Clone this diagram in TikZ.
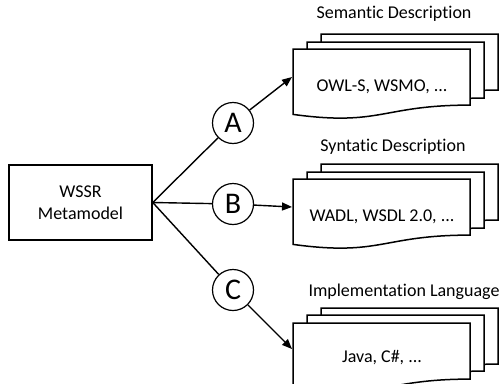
\documentclass[tikz,border=0pt]{standalone}
\usepackage{fontspec}
\setmainfont[Ligatures=NoCommon]{Carlito}
\usetikzlibrary{arrows.meta}
\newcommand\mydocshape[2]{%
  \draw[docline, shift={(#1,#2)}] (0,0) -- (177,0) -- (177,56.1)
    .. controls (88.5,56.1) and (88.5,77.5) .. (0,65.4) -- cycle;}
\tikzset{
  docline/.style={line width=1.5pt, fill=white, line join=miter},
  mainbox/.style={draw, line width=1.5pt, minimum width=143pt, minimum height=75pt, inner sep=0pt, align=center, font=\fontsize{18}{22}\selectfont},
  letter/.style={draw, circle, line width=1.2pt, minimum size=41pt, inner sep=0pt, font=\fontsize{30}{30}\selectfont},
  lbl/.style={inner sep=0pt, font=\fontsize{18}{22}\selectfont},
  conn/.style={line width=1.4pt},
  arr/.style={line width=1.4pt, -{Triangle[length=10pt,width=8pt]}, shorten >=0pt}
}
\begin{document}
\begin{tikzpicture}[x=1pt,y=-1pt]
\useasboundingbox (0,0) rectangle (503,383);
\begin{scope}
\clip (0,0) rectangle (503,383);
% document stacks
\mydocshape{321}{34}\mydocshape{307}{42}\mydocshape{293}{49}
\mydocshape{321}{164}\mydocshape{307}{172}\mydocshape{293}{179}
\mydocshape{321}{308}\mydocshape{307}{315}\mydocshape{293}{323}
\end{scope}
\node[lbl] (la) at (394,14) {Semantic Description};
\node[lbl] (lb) at (393,147) {Syntatic Description};
\node[lbl] (lc) at (404,292) {Implementation Language};
\node[lbl] (ta) at (382,87) {OWL-S, WSMO, ...};
\node[lbl] (tb) at (382,217) {WADL, WSDL 2.0, ...};
\node[lbl] (tc) at (382,358) {Java, C\#, ...};
\node[mainbox] (wssr) at (80.5,202.5) {WSSR\\Metamodel};
\node[letter] (A) at (233,123) {A};
\node[letter] (B) at (233,204) {B};
\node[letter] (C) at (233,290) {C};
\coordinate (ina) at (292,77);
\coordinate (inb) at (292,207);
\coordinate (inc) at (292,349);
\draw[conn] (wssr.east) -- (A);
\draw[conn] (wssr.east) -- (B);
\draw[conn] (wssr.east) -- (C);
\draw[arr] (A) -- (ina);
\draw[arr] (B) -- (inb);
\draw[arr] (C) -- (inc);
\end{tikzpicture}
\end{document}
